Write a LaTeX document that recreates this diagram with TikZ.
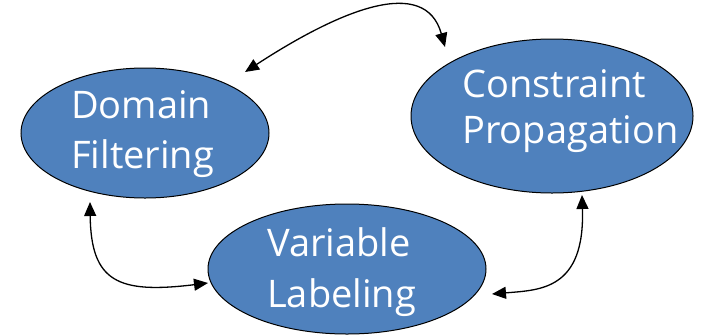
\documentclass[tikz,border=0pt]{standalone}
\usepackage{fontspec}
\setmainfont{Open Sans}
\usetikzlibrary{shapes.geometric,arrows.meta}
\definecolor{stepblue}{HTML}{4F81BD}
\tikzset{
  stage/.style={ellipse, draw=black, line width=1pt, fill=stepblue, inner sep=0pt},
  word/.style={anchor=base west, inner sep=0pt, text=white, font=\fontsize{38}{46}\selectfont},
  link/.style={line width=1.3pt, {Triangle[length=14pt,width=12pt]}-{Triangle[length=14pt,width=12pt]}}
}
\begin{document}
\begin{tikzpicture}[x=1pt,y=-1pt]
\useasboundingbox (0,0) rectangle (708,335);
% the three stages
\node[stage, minimum width=248pt, minimum height=130pt] (df) at (145,133) {};
\node[stage, minimum width=282pt, minimum height=154pt] (cp) at (552,116) {};
\node[stage, minimum width=278pt, minimum height=130pt] (vl) at (347,269) {};
% stage names
\node[word] (df1) at (71,118) {Domain};
\node[word] (df2) at (71,168) {Filtering};
\node[word] (cp1) at (462,97) {Constraint};
\node[word] (cp2) at (462,143) {Propagation};
\node[word] (vl1) at (267,256) {Variable};
\node[word] (vl2) at (267,307) {Labeling};
% arrow ends
\coordinate (a1) at (245,72);
\coordinate (a2) at (445,47);
\coordinate (b1) at (90,202);
\coordinate (b2) at (208,283);
\coordinate (c1) at (582,195);
\coordinate (c2) at (492,294);
% two-way links between stages
\draw[link] (a1) .. controls (340,10) and (425,-25) .. (a2);
\draw[link] (b1) .. controls (91,282) and (118,294) .. (b2);
\draw[link] (c1) .. controls (585,290) and (540,290) .. (c2);
\end{tikzpicture}
\end{document}
